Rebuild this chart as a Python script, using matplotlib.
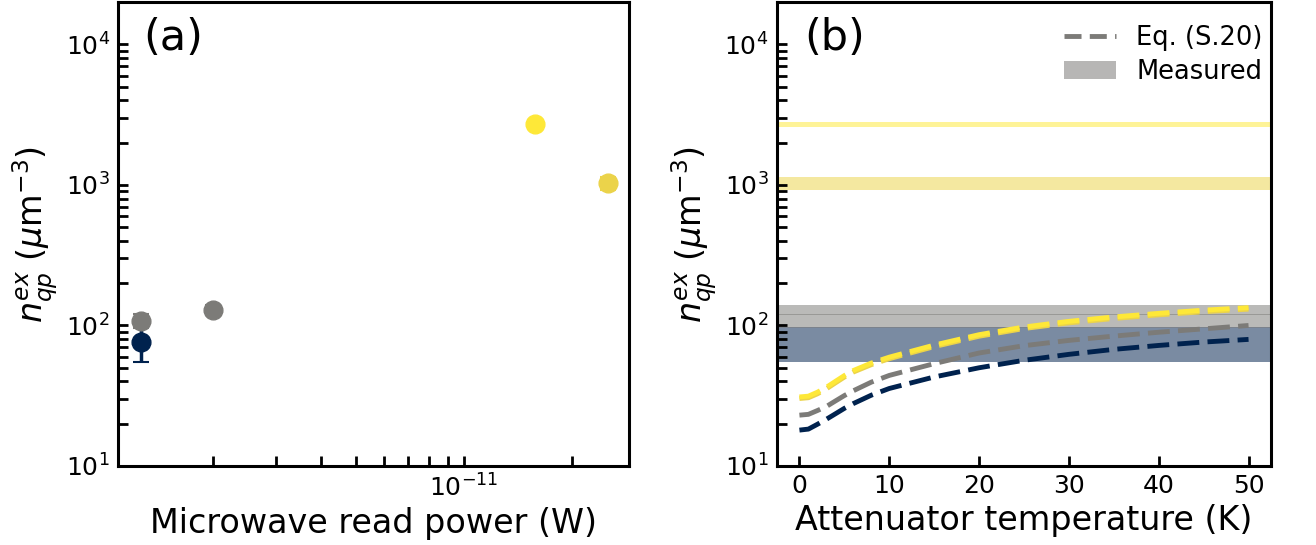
import numpy as np
import matplotlib
matplotlib.use('Agg')
import matplotlib.pyplot as plt
from matplotlib.lines import Line2D
from matplotlib.patches import Patch
from matplotlib.ticker import NullFormatter, LogLocator

# ---------------- data ----------------
# datasets: navy, grey1, grey2, yellow1, yellow2
colors = ['#00224e', '#7c7b78', '#7c7b78', '#fee838', '#ebd34a']
read_power = [1.26e-12, 1.26e-12, 2.0e-12, 1.58e-11, 2.51e-11]    # W
n_qp = [76, 108, 129, 2700, 1035]                                  # um^-3
n_err = [21, 12, 11, 125, 110]

# Eq. (S.20) curves vs attenuator temperature
temps = [0, 1, 2, 3, 4, 5, 6, 8, 10, 15, 20, 25, 30, 35, 40, 45, 50]
eq_navy = [18.0, 18.3, 19.8, 21.5, 23.5, 25.7, 27.8, 31.9, 35.6, 43.0, 50.0,
           56.5, 62.3, 67.6, 72.1, 76.2, 79.6]
eq_grey = [23.0, 23.3, 24.8, 26.5, 29.0, 31.7, 34.3, 39.5, 44.1, 53.5, 63.7,
           71.8, 78.3, 84.0, 89.5, 94.6, 100.0]
eq_yellow2 = [30.2, 30.6, 32.6, 35.4, 39.0, 42.9, 46.6, 52.6, 58.0, 70.7, 83.8,
              95.1, 104.3, 112.1, 119.0, 125.3, 130.6]
eq_yellow1 = [31.0, 31.4, 33.5, 36.3, 40.0, 44.0, 47.8, 54.0, 59.5, 72.5, 86.0,
              97.5, 107.0, 115.0, 122.0, 128.5, 134.0]

# ---------------- figure ----------------
fig = plt.figure(figsize=(13.16, 5.45), dpi=100)
ax1 = fig.add_axes([0.0897, 0.145, 0.3879, 0.851])
ax2 = fig.add_axes([0.5904, 0.145, 0.3754, 0.851])

ylim = (10, 2e4)
for ax in (ax1, ax2):
    for s in ax.spines.values():
        s.set_linewidth(2.2)
    ax.tick_params(which='both', direction='in', length=7, width=2,
                   labelsize=18, pad=6, top=False, right=False)
    ax.set_yscale('log')
    ax.set_ylim(*ylim)
    ax.set_ylabel(r'$n_{qp}^{ex}$ ($\mu$m$^{-3}$)', fontsize=24)
    ax.yaxis.set_major_locator(LogLocator(base=10, numticks=10))
    ax.yaxis.set_minor_locator(LogLocator(base=10, subs=np.arange(2, 10), numticks=10))
    ax.yaxis.set_minor_formatter(NullFormatter())

# ---- panel (a) ----
for i in range(len(n_qp)):
    ax1.errorbar(read_power[i], n_qp[i], yerr=n_err[i], fmt='o', color=colors[i],
                 ms=13.5, elinewidth=2.5, capsize=6, capthick=1.5, zorder=3 + i)
ax1.set_xscale('log')
ax1.set_xlim(1.088e-12, 2.87e-11)
ax1.xaxis.set_minor_formatter(NullFormatter())
ax1.set_xlabel('Microwave read power (W)', fontsize=24)
ax1.text(0.05, 0.968, '(a)', transform=ax1.transAxes, fontsize=31,
         va='top', ha='left')

# ---- panel (b) ----
for i in range(len(n_qp)):
    ax2.axhspan(n_qp[i] - n_err[i], n_qp[i] + n_err[i], color=colors[i],
                alpha=0.52, lw=0)
curve_sets = [(eq_navy, colors[0]), (eq_grey, colors[1]),
              (eq_yellow2, colors[4]), (eq_yellow1, colors[3])]
for vals, c in curve_sets:
    ax2.plot(temps, vals, color=c, lw=3.5, dashes=(4.5, 1.7), zorder=4)
ax2.set_xlim(-2.5, 52.5)
ax2.set_xticks([0, 10, 20, 30, 40, 50])
ax2.set_xlabel('Attenuator temperature (K)', fontsize=24)
ax2.text(0.055, 0.968, '(b)', transform=ax2.transAxes, fontsize=31,
         va='top', ha='left')

handles = [Line2D([0], [0], color='#7c7b78', lw=3.5, dashes=(3.5, 1.7)),
           Patch(facecolor='#7c7b78', alpha=0.55, edgecolor='none')]
ax2.legend(handles, ['Eq. (S.20)', 'Measured'], loc='upper right',
           bbox_to_anchor=(1.03, 1.0), frameon=False, fontsize=18.5,
           labelspacing=0.3)

fig.savefig('out.png', dpi=100)
